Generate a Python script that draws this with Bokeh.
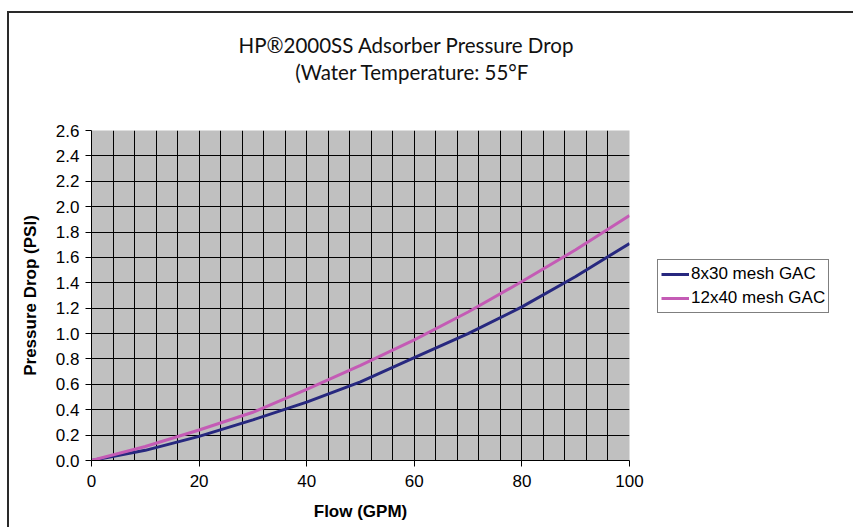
from bokeh.plotting import figure
from bokeh.layouts import row
from bokeh.models import (Range1d, SingleIntervalTicker, NumeralTickFormatter, Legend,
                          LegendItem, Title)
from bokeh.embed import file_html
from bokeh.resources import INLINE

flow = [0, 10, 20, 30, 40, 50, 60, 70, 80, 90, 100]
mesh_8x30 = [0.0, 0.08, 0.19, 0.32, 0.46, 0.62, 0.81, 1.00, 1.21, 1.45, 1.71]
mesh_12x40 = [0.0, 0.11, 0.24, 0.38, 0.56, 0.75, 0.95, 1.17, 1.41, 1.66, 1.93]
series_names = ["8x30 mesh GAC", "12x40 mesh GAC"]
title_lines = ["HP®2000SS Adsorber Pressure Drop", "(Water Temperature: 55°F"]
colors = ["#27287F", "#C45BB5"]

X_MAX, Y_MAX = 100, 2.6

p = figure(frame_width=538, frame_height=330, output_backend="svg", toolbar_location=None,
           x_range=Range1d(0, X_MAX), y_range=Range1d(0, Y_MAX),
           min_border_left=82, min_border_right=16, min_border_top=117,
           min_border_bottom=67)
p.background_fill_color = "#C0C0C0"
p.border_fill_color = "white"
p.outline_line_color = None

p.xaxis.ticker = SingleIntervalTicker(interval=20)
p.yaxis.ticker = SingleIntervalTicker(interval=0.2)
p.yaxis.formatter = NumeralTickFormatter(format="0.0")
p.xgrid.ticker = SingleIntervalTicker(interval=4)
p.ygrid.ticker = SingleIntervalTicker(interval=0.2)
for g in (p.xgrid, p.ygrid):
    g.grid_line_color = "black"
    g.grid_line_width = 1
    g.grid_line_alpha = 1

for ax in (p.xaxis, p.yaxis):
    ax.axis_line_color = "black"
    ax.major_tick_line_color = "black"
    ax.major_tick_out = 6
    ax.major_tick_in = 0
    ax.minor_tick_line_color = None
    ax.major_label_text_font = "Liberation Sans"
    ax.major_label_text_font_size = "17px"
    ax.major_label_text_color = "black"
    ax.axis_label_text_font = "Liberation Sans"
    ax.axis_label_text_font_style = "bold"
    ax.axis_label_text_font_size = "17px"
    ax.axis_label_text_color = "black"
p.xaxis.axis_label = "Flow (GPM)"
p.yaxis.axis_label = "Pressure Drop (PSI)"
p.xaxis.major_label_standoff = 8
p.xaxis.axis_label_standoff = 12
p.yaxis.major_label_standoff = 6
p.yaxis.axis_label_standoff = 13

p.line(flow, mesh_8x30, line_color=colors[0], line_width=3)
p.line(flow, mesh_12x40, line_color=colors[1], line_width=3)

# title block: spacer nearest the frame, then line 2, then line 1 on top
title_style = dict(text_font="Lato", text_font_size="20.5px", text_font_style="normal",
                   text_color="#111111", align="right")
p.add_layout(Title(text=" ", offset=0, standoff=20, **title_style), "above")
p.add_layout(Title(text=title_lines[1], offset=100, standoff=2, **title_style), "above")
p.add_layout(Title(text=title_lines[0], offset=55, standoff=0, **title_style), "above")

# legend panel (separate canvas so the key is not clipped by the plot frame);
# the key proxies carry the same series but lie outside this canvas' ranges
p2 = figure(width=208, height=514, output_backend="svg", toolbar_location=None,
            x_axis_location=None, y_axis_location=None,
            x_range=Range1d(-2, -1), y_range=Range1d(0, 1), min_border=0)
p2.outline_line_color = None
p2.background_fill_color = "white"
p2.border_fill_color = "white"
p2.xgrid.visible = False
p2.ygrid.visible = False
k1 = p2.line(flow, mesh_8x30, line_color=colors[0], line_width=3)
k2 = p2.line(flow, mesh_12x40, line_color=colors[1], line_width=3)

legend = Legend(items=[LegendItem(label=series_names[0], renderers=[k1]),
                       LegendItem(label=series_names[1], renderers=[k2])],
                location=(12, 147))
legend.border_line_color = "black"
legend.border_line_width = 1
legend.background_fill_color = "white"
legend.background_fill_alpha = 1
legend.label_text_font = "Liberation Sans"
legend.label_text_font_size = "17px"
legend.label_text_color = "black"
legend.glyph_width = 28
legend.glyph_height = 22
legend.label_height = 22
legend.spacing = 2
legend.padding = 3
legend.margin = 0
legend.label_standoff = 2
p2.add_layout(legend, "center")

layout = row(p, p2, styles={"border-left": "2px solid #2a2a2a",
                            "border-top": "2px solid #2a2a2a",
                            "margin-top": "11px", "margin-left": "7px"})

open("out.html", "w").write(file_html(layout, INLINE))
